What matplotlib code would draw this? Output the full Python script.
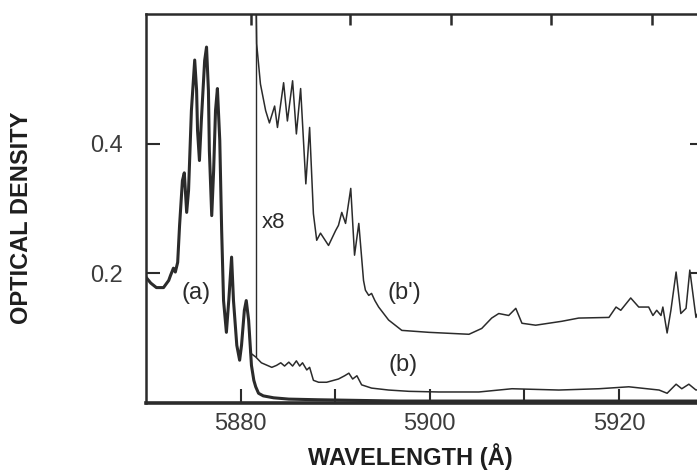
import matplotlib
matplotlib.use("Agg")
import matplotlib.pyplot as plt

plt.rcParams['font.family'] = ['Liberation Sans', 'DejaVu Sans']

# curve (a): strong absorption band
wl_a = [5870.0, 5870.5, 5871.1, 5871.85, 5872.4, 5872.6, 5872.9, 5873.1, 5873.35, 5873.55,
        5873.65, 5873.85, 5874.05, 5874.3, 5874.5, 5874.8, 5875.15, 5875.35, 5875.45, 5875.65,
        5875.85, 5876.2, 5876.4, 5876.6, 5876.7, 5876.95, 5877.15, 5877.35, 5877.55, 5877.8,
        5878.0, 5878.2, 5878.5, 5878.75, 5879.05, 5879.25, 5879.6, 5879.9, 5880.1, 5880.4,
        5880.6, 5880.85, 5881.15, 5881.4, 5881.6, 5881.9, 5882.4, 5883.5, 5885.1, 5888.2,
        5896.7, 5929.0]
od_a = [0.194, 0.185, 0.178, 0.178, 0.189, 0.197, 0.208, 0.202, 0.217, 0.274,
        0.297, 0.343, 0.355, 0.294, 0.328, 0.451, 0.529, 0.482, 0.420, 0.374,
        0.435, 0.528, 0.549, 0.482, 0.389, 0.289, 0.358, 0.451, 0.485, 0.405,
        0.266, 0.158, 0.109, 0.158, 0.225, 0.158, 0.089, 0.066, 0.089, 0.143,
        0.158, 0.128, 0.058, 0.035, 0.025, 0.015, 0.011, 0.008, 0.006, 0.005,
        0.003, 0.003]

# curve (b): weak band
wl_b = [5880.85, 5881.05, 5881.6, 5882.2, 5883.3, 5883.8, 5884.25, 5884.65, 5885.1, 5885.5,
        5885.9, 5886.25, 5886.55, 5887.0, 5887.3, 5887.7, 5888.25, 5889.1, 5890.35, 5891.0,
        5891.45, 5891.85, 5892.3, 5892.8, 5893.85, 5895.65, 5897.8, 5900.95, 5905.2, 5908.7,
        5913.65, 5917.9, 5921.05, 5924.25, 5925.1, 5926.05, 5926.65, 5927.4, 5928.15, 5928.9]
od_b = [0.128, 0.077, 0.071, 0.062, 0.055, 0.058, 0.062, 0.057, 0.063, 0.057,
        0.065, 0.057, 0.062, 0.051, 0.055, 0.035, 0.032, 0.032, 0.037, 0.042,
        0.046, 0.037, 0.042, 0.028, 0.023, 0.020, 0.018, 0.017, 0.017, 0.022,
        0.020, 0.022, 0.025, 0.020, 0.015, 0.029, 0.022, 0.029, 0.020, 0.022]

# curve (b'): (b) magnified x8
wl_b8 = [5881.6, 5881.7, 5882.1, 5882.65, 5883.05, 5883.6, 5883.9, 5884.55, 5884.95, 5885.5,
         5885.9, 5886.35, 5886.9, 5887.3, 5887.7, 5888.05, 5888.45, 5889.3, 5890.05, 5890.35,
         5890.7, 5891.1, 5891.65, 5892.05, 5892.5, 5893.0, 5893.2, 5893.55, 5893.85, 5894.2,
         5894.6, 5895.65, 5897.05, 5899.9, 5904.15, 5905.5, 5906.55, 5907.3, 5908.35, 5909.1,
         5909.75, 5911.2, 5913.95, 5915.75, 5918.95, 5919.7, 5920.2, 5921.25, 5922.1, 5923.15,
         5923.6, 5924.0, 5924.45, 5924.65, 5925.1, 5925.5, 5926.05, 5926.55, 5927.1, 5927.5,
         5928.15, 5928.9]
od_b8 = [0.65, 0.554, 0.492, 0.451, 0.432, 0.458, 0.425, 0.494, 0.435, 0.497,
         0.415, 0.485, 0.338, 0.425, 0.292, 0.251, 0.262, 0.243, 0.266, 0.274,
         0.294, 0.277, 0.331, 0.228, 0.277, 0.189, 0.174, 0.166, 0.169, 0.158,
         0.148, 0.128, 0.112, 0.109, 0.106, 0.115, 0.131, 0.138, 0.135, 0.146,
         0.123, 0.120, 0.126, 0.131, 0.132, 0.148, 0.143, 0.162, 0.148, 0.148,
         0.135, 0.143, 0.135, 0.148, 0.108, 0.143, 0.202, 0.138, 0.146, 0.205,
         0.132, 0.158]

x_ticks = [5880, 5890, 5900, 5910, 5920]
x_ticklabels = ['5880', '', '5900', '', '5920']
top_ticks = [5881.05, 5891.55, 5902.2, 5912.8, 5923.5]
y_ticks = [0.2, 0.4]
y_ticklabels = ['0.2', '0.4']

ink = '#2b2b2b'

fig = plt.figure(figsize=(6.97, 4.71), dpi=100)
ax = fig.add_axes([146 / 697, 68 / 471, 558 / 697, 389 / 471])

ax.plot(wl_b8, od_b8, color=ink, lw=1.1, solid_joinstyle='round')
ax.vlines(5881.6, 0.071, 0.6, color=ink, lw=1.0)
ax.plot(wl_b, od_b, color=ink, lw=1.1, solid_joinstyle='round')
ax.plot(wl_a, od_a, color=ink, lw=2.2, solid_joinstyle='round')

ax.set_xlim(5870, 5929)
ax.set_ylim(0, 0.6)

ax.set_xticks(x_ticks)
ax.set_xticklabels(x_ticklabels)
ax.set_yticks(y_ticks)
ax.set_yticklabels(y_ticklabels)
ax.tick_params(axis='x', direction='in', length=10, width=1.5, pad=7,
               labelsize=17, labelcolor='#3c3c3c', color=ink)
ax.tick_params(axis='y', direction='in', length=10, width=1.5, pad=17,
               labelsize=17, labelcolor='#3c3c3c', color=ink, right=True)

# top axis ticks sit at their own positions
top = ax.twiny()
top.set_xlim(ax.get_xlim())
top.set_xticks(top_ticks)
top.set_xticklabels([])
top.tick_params(axis='x', direction='in', length=8, width=1.8, color=ink)
for s in top.spines.values():
    s.set_visible(False)

for s in ax.spines.values():
    s.set_linewidth(1.8)
    s.set_color(ink)
ax.spines['bottom'].set_linewidth(2.6)

ax.text(5875.25, 0.169, '(a)', fontsize=17, color=ink, ha='center', va='center')
ax.text(5883.5, 0.278, 'x8', fontsize=16, color=ink, ha='center', va='center')
ax.text(5897.35, 0.169, "(b')", fontsize=17, color=ink, ha='center', va='center')
ax.text(5897.15, 0.058, '(b)', fontsize=17, color=ink, ha='center', va='center')

fig.text(22 / 697, 1 - 218 / 471, 'OPTICAL DENSITY', rotation=90, fontsize=17,
         fontweight='bold', color='#1e1e1e', ha='center', va='center')
fig.text(410 / 697, 1 - 457 / 471, 'WAVELENGTH (\u00c5)', fontsize=17,
         fontweight='bold', color='#1e1e1e', ha='center', va='center')

fig.savefig('out.png', dpi=100)
